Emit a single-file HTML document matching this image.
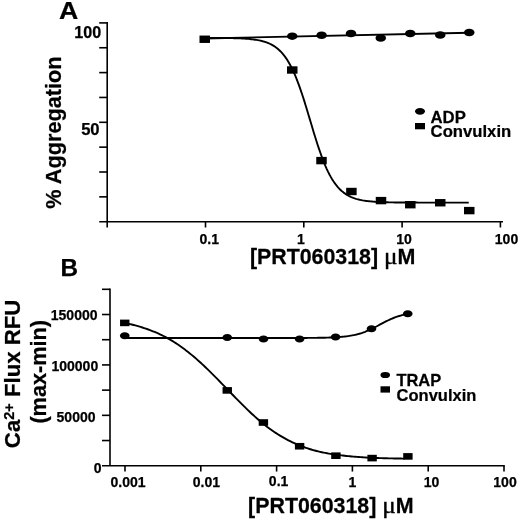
<!DOCTYPE html>
<html><head><meta charset="utf-8"><title>PRT060318 figure</title>
<style>html,body{margin:0;padding:0;background:#fff}svg{display:block}</style>
</head><body>
<svg width="520" height="521" viewBox="0 0 520 521">
<rect width="520" height="521" fill="#fff"/>
<g font-family="'Liberation Sans', Arial, sans-serif" font-weight="bold" fill="#000" stroke="#000" stroke-width="0.25" stroke-linejoin="round">

<!-- Panel A -->
<text transform="translate(59.1,19.25) scale(1.1,1)" font-size="24.3">A</text>
<g stroke="#000" stroke-width="1.6" fill="none">
<line x1="107.2" y1="22.10" x2="107.2" y2="221.7"/>
<line x1="99.2" y1="221.7" x2="503" y2="221.7"/>
<line x1="99.2" y1="22.90" x2="107.2" y2="22.90"/><line x1="99.2" y1="47.75" x2="107.2" y2="47.75"/><line x1="99.2" y1="72.60" x2="107.2" y2="72.60"/><line x1="99.2" y1="97.45" x2="107.2" y2="97.45"/><line x1="99.2" y1="122.30" x2="107.2" y2="122.30"/><line x1="99.2" y1="147.15" x2="107.2" y2="147.15"/><line x1="99.2" y1="172.00" x2="107.2" y2="172.00"/><line x1="99.2" y1="196.85" x2="107.2" y2="196.85"/>
<line x1="107.2" y1="221.7" x2="107.2" y2="227.5"/><line x1="205.5" y1="221.7" x2="205.5" y2="227.5"/><line x1="303.8" y1="221.7" x2="303.8" y2="227.5"/><line x1="402.1" y1="221.7" x2="402.1" y2="227.5"/><line x1="500.4" y1="221.7" x2="500.4" y2="227.5"/>
</g>
<text x="101.1" y="37.8" font-size="16.1" text-anchor="end">100</text>
<text x="99.6" y="135" font-size="16.6" text-anchor="end">50</text>
<g font-size="14" text-anchor="middle">
<text x="209.2" y="244.0">0.1</text>
<text x="300.8" y="243.6">1</text>
<text x="404" y="243.6">10</text>
<text x="506.5" y="244.2">100</text>
</g>
<text transform="translate(60.8,132.6) rotate(-90)" font-size="21.7" text-anchor="middle">% Aggregation</text>
<text transform="translate(249.9,264.2) scale(0.954,1)" font-size="22.4">[PRT060318]</text><text transform="translate(384.10,264.00) scale(1.08,0.98)" font-family="'Liberation Serif', serif" font-weight="normal" font-size="23.3" stroke-width="0.4">μ</text><text transform="translate(397.50,264.2) scale(0.958,1)" font-size="22.4">M</text>
<g stroke="#000" stroke-width="1.9" fill="none" stroke-linecap="butt">
<path d="M204.75,38.5 L469.25,32.7"/>
<path d="M204.75,37.88 L206.08,37.88 L207.40,37.89 L208.73,37.89 L210.06,37.90 L211.38,37.90 L212.71,37.91 L214.04,37.91 L215.36,37.92 L216.69,37.93 L218.02,37.94 L219.34,37.95 L220.67,37.96 L222.00,37.97 L223.32,37.99 L224.65,38.00 L225.98,38.02 L227.30,38.04 L228.63,38.06 L229.96,38.09 L231.28,38.11 L232.61,38.14 L233.94,38.18 L235.26,38.22 L236.59,38.26 L237.92,38.30 L239.24,38.36 L240.57,38.41 L241.90,38.48 L243.22,38.55 L244.55,38.63 L245.88,38.72 L247.20,38.82 L248.53,38.92 L249.86,39.05 L251.18,39.18 L252.51,39.33 L253.84,39.50 L255.16,39.69 L256.49,39.90 L257.82,40.13 L259.14,40.38 L260.47,40.67 L261.80,40.98 L263.12,41.33 L264.45,41.72 L265.78,42.16 L267.10,42.63 L268.43,43.16 L269.76,43.75 L271.08,44.40 L272.41,45.11 L273.73,45.90 L275.06,46.77 L276.39,47.73 L277.71,48.79 L279.04,49.95 L280.37,51.22 L281.69,52.61 L283.02,54.13 L284.35,55.79 L285.67,57.60 L287.00,59.56 L288.33,61.68 L289.65,63.97 L290.98,66.44 L292.31,69.09 L293.63,71.93 L294.96,74.95 L296.29,78.15 L297.61,81.54 L298.94,85.10 L300.27,88.84 L301.59,92.72 L302.92,96.76 L304.25,100.91 L305.57,105.18 L306.90,109.53 L308.23,113.94 L309.55,118.39 L310.88,122.85 L312.21,127.29 L313.53,131.69 L314.86,136.03 L316.19,140.28 L317.51,144.42 L318.84,148.42 L320.17,152.29 L321.49,155.99 L322.82,159.52 L324.15,162.88 L325.47,166.05 L326.80,169.04 L328.13,171.84 L329.45,174.46 L330.78,176.89 L332.11,179.16 L333.43,181.25 L334.76,183.18 L336.09,184.96 L337.41,186.60 L338.74,188.10 L340.07,189.47 L341.39,190.72 L342.72,191.86 L344.05,192.89 L345.37,193.84 L346.70,194.69 L348.03,195.47 L349.35,196.17 L350.68,196.81 L352.01,197.38 L353.33,197.90 L354.66,198.37 L355.99,198.80 L357.31,199.18 L358.64,199.52 L359.97,199.83 L361.29,200.11 L362.62,200.37 L363.95,200.59 L365.27,200.80 L366.60,200.98 L367.93,201.14 L369.25,201.29 L370.58,201.43 L371.91,201.55 L373.23,201.65 L374.56,201.75 L375.89,201.84 L377.21,201.91 L378.54,201.98 L379.87,202.05 L381.19,202.10 L382.52,202.15 L383.85,202.20 L385.17,202.24 L386.50,202.28 L387.83,202.31 L389.15,202.34 L390.48,202.37 L391.81,202.39 L393.13,202.41 L394.46,202.43 L395.79,202.45 L397.11,202.46 L398.44,202.48 L399.77,202.49 L401.09,202.50 L402.42,202.51 L403.74,202.52 L405.07,202.53 L406.40,202.54 L407.72,202.54 L409.05,202.55 L410.38,202.55 L411.70,202.56 L413.03,202.56 L414.36,202.57 L415.68,202.57 L417.01,202.57 L418.34,202.58 L419.66,202.58 L420.99,202.58 L422.32,202.58 L423.64,202.58 L424.97,202.59 L426.30,202.59 L427.62,202.59 L428.95,202.59 L430.28,202.59 L431.60,202.59 L432.93,202.59 L434.26,202.59 L435.58,202.59 L436.91,202.59 L438.24,202.60 L439.56,202.60 L440.89,202.60 L442.22,202.60 L443.54,202.60 L444.87,202.60 L446.20,202.60 L447.52,202.60 L448.85,202.60 L450.18,202.60 L451.50,202.60 L452.83,202.60 L454.16,202.60 L455.48,202.60 L456.81,202.60 L458.14,202.60 L459.46,202.60 L460.79,202.60 L462.12,202.60 L463.44,202.60 L464.77,202.60 L466.10,202.60 L467.42,202.60 L468.75,202.60"/>
</g>
<g stroke="none"><ellipse cx="292.25" cy="36.2" rx="5.25" ry="3.75"/><ellipse cx="321.6" cy="35.25" rx="5.25" ry="3.75"/><ellipse cx="351" cy="33.5" rx="5.25" ry="3.75"/><ellipse cx="380.75" cy="38" rx="5.25" ry="3.75"/><ellipse cx="410.25" cy="33.5" rx="5.25" ry="3.75"/><ellipse cx="440.25" cy="35" rx="5.25" ry="3.75"/><ellipse cx="469.25" cy="32.5" rx="5.25" ry="3.75"/></g>
<g stroke="none"><rect x="199.50" y="35.55" width="10.5" height="7.4"/><rect x="287.00" y="66.30" width="10.5" height="7.4"/><rect x="316.25" y="156.90" width="10.5" height="7.4"/><rect x="346.15" y="187.80" width="10.5" height="7.4"/><rect x="375.75" y="196.90" width="10.5" height="7.4"/><rect x="405.05" y="201.00" width="10.5" height="7.4"/><rect x="435.00" y="199.05" width="10.5" height="7.4"/><rect x="464.00" y="206.90" width="10.5" height="7.4"/></g>
<ellipse cx="420" cy="111.3" rx="5" ry="3.4" stroke="none"/>
<rect x="415" y="123" width="10" height="6.3" stroke="none"/>
<text transform="translate(430.5,123.0) scale(0.975,1)" font-size="17.2">ADP</text>
<text transform="translate(430.6,137.4) scale(0.965,1)" font-size="17.3">Convulxin</text>

<!-- Panel B -->
<text x="60.5" y="276.3" font-size="24.3">B</text>
<g stroke="#000" stroke-width="1.6" fill="none">
<line x1="110" y1="288.50" x2="110" y2="465.75"/>
<line x1="102" y1="465.75" x2="504.8" y2="465.75"/>
<line x1="102" y1="289.30" x2="110" y2="289.30"/><line x1="102" y1="314.51" x2="110" y2="314.51"/><line x1="102" y1="339.71" x2="110" y2="339.71"/><line x1="102" y1="364.92" x2="110" y2="364.92"/><line x1="102" y1="390.13" x2="110" y2="390.13"/><line x1="102" y1="415.34" x2="110" y2="415.34"/><line x1="102" y1="440.54" x2="110" y2="440.54"/>
<line x1="125" y1="465.75" x2="125" y2="471.55"/><line x1="200.8" y1="465.75" x2="200.8" y2="471.55"/><line x1="276.6" y1="465.75" x2="276.6" y2="471.55"/><line x1="352.4" y1="465.75" x2="352.4" y2="471.55"/><line x1="428.2" y1="465.75" x2="428.2" y2="471.55"/><line x1="504" y1="465.75" x2="504" y2="471.55"/>
</g>
<g font-size="14" text-anchor="end">
<text x="97.5" y="320.0">150000</text>
<text x="98.2" y="371.1">100000</text>
<text x="95.5" y="422">50000</text>
<text x="101.5" y="473">0</text>
</g>
<g font-size="14" text-anchor="middle">
<text x="128.1" y="486.5">0.001</text>
<text x="206.4" y="486.5">0.01</text>
<text x="278.6" y="486.4">0.1</text>
<text x="352.5" y="486.5">1</text>
<text x="431.5" y="486.5">10</text>
<text x="505" y="486.5">100</text>
</g>
<text transform="translate(19.8,373.9) rotate(-90)" font-size="22.2" text-anchor="middle">Ca<tspan font-size="14.5" dy="-6.3">2+</tspan><tspan dy="6.3"> Flux RFU</tspan></text>
<text transform="translate(45.8,371.8) rotate(-90)" font-size="21.7" text-anchor="middle">(max-min)</text>
<text transform="translate(248.1,512.7) scale(0.954,1)" font-size="22.4">[PRT060318]</text><text transform="translate(382.30,512.50) scale(1.08,0.98)" font-family="'Liberation Serif', serif" font-weight="normal" font-size="23.3" stroke-width="0.4">μ</text><text transform="translate(395.70,512.7) scale(0.958,1)" font-size="22.4">M</text>
<g stroke="#000" stroke-width="1.9" fill="none">
<path d="M124.75,338.00 L126.17,338.00 L127.59,338.00 L129.02,338.00 L130.44,338.00 L131.86,338.00 L133.28,338.00 L134.70,338.00 L136.13,338.00 L137.55,338.00 L138.97,338.00 L140.39,338.00 L141.82,338.00 L143.24,338.00 L144.66,338.00 L146.08,338.00 L147.50,338.00 L148.93,338.00 L150.35,338.00 L151.77,338.00 L153.19,338.00 L154.61,338.00 L156.04,338.00 L157.46,338.00 L158.88,338.00 L160.30,338.00 L161.72,338.00 L163.15,338.00 L164.57,338.00 L165.99,338.00 L167.41,338.00 L168.84,338.00 L170.26,338.00 L171.68,338.00 L173.10,338.00 L174.52,338.00 L175.95,338.00 L177.37,338.00 L178.79,338.00 L180.21,338.00 L181.63,338.00 L183.06,338.00 L184.48,338.00 L185.90,338.00 L187.32,338.00 L188.74,338.00 L190.17,338.00 L191.59,338.00 L193.01,338.00 L194.43,338.00 L195.86,338.00 L197.28,338.00 L198.70,338.00 L200.12,338.00 L201.54,338.00 L202.97,338.00 L204.39,338.00 L205.81,338.00 L207.23,338.00 L208.65,338.00 L210.08,338.00 L211.50,338.00 L212.92,338.00 L214.34,338.00 L215.77,338.00 L217.19,338.00 L218.61,338.00 L220.03,338.00 L221.45,338.00 L222.88,338.00 L224.30,338.00 L225.72,338.00 L227.14,338.00 L228.56,338.00 L229.99,338.00 L231.41,338.00 L232.83,338.00 L234.25,338.00 L235.67,338.00 L237.10,338.00 L238.52,338.00 L239.94,338.00 L241.36,338.00 L242.79,338.00 L244.21,338.00 L245.63,338.00 L247.05,338.00 L248.47,338.00 L249.90,338.00 L251.32,338.00 L252.74,338.00 L254.16,338.00 L255.58,338.00 L257.01,338.00 L258.43,338.00 L259.85,338.00 L261.27,338.00 L262.69,338.00 L264.12,338.00 L265.54,338.00 L266.96,338.00 L268.38,338.00 L269.81,338.00 L271.23,338.00 L272.65,338.00 L274.07,338.00 L275.49,337.99 L276.92,337.99 L278.34,337.99 L279.76,337.99 L281.18,337.99 L282.60,337.99 L284.03,337.99 L285.45,337.99 L286.87,337.99 L288.29,337.98 L289.71,337.98 L291.14,337.98 L292.56,337.98 L293.98,337.98 L295.40,337.97 L296.83,337.97 L298.25,337.96 L299.67,337.96 L301.09,337.96 L302.51,337.95 L303.94,337.94 L305.36,337.94 L306.78,337.93 L308.20,337.92 L309.62,337.91 L311.05,337.90 L312.47,337.89 L313.89,337.87 L315.31,337.86 L316.73,337.84 L318.16,337.82 L319.58,337.80 L321.00,337.78 L322.42,337.75 L323.85,337.72 L325.27,337.69 L326.69,337.65 L328.11,337.61 L329.53,337.56 L330.96,337.51 L332.38,337.45 L333.80,337.38 L335.22,337.31 L336.64,337.22 L338.07,337.13 L339.49,337.03 L340.91,336.91 L342.33,336.79 L343.76,336.65 L345.18,336.49 L346.60,336.32 L348.02,336.12 L349.44,335.91 L350.87,335.68 L352.29,335.42 L353.71,335.14 L355.13,334.83 L356.55,334.50 L357.98,334.13 L359.40,333.73 L360.82,333.30 L362.24,332.84 L363.66,332.34 L365.09,331.81 L366.51,331.24 L367.93,330.64 L369.35,330.01 L370.78,329.36 L372.20,328.67 L373.62,327.96 L375.04,327.23 L376.46,326.48 L377.89,325.73 L379.31,324.96 L380.73,324.20 L382.15,323.43 L383.57,322.68 L385.00,321.94 L386.42,321.22 L387.84,320.52 L389.26,319.85 L390.68,319.20 L392.11,318.58 L393.53,318.00 L394.95,317.45 L396.37,316.93 L397.80,316.45 L399.22,316.00 L400.64,315.59 L402.06,315.20 L403.48,314.85 L404.91,314.53 L406.33,314.23 L407.75,313.96"/>
<path d="M124.75,322.82 L126.51,323.22 L128.27,323.64 L130.03,324.07 L131.79,324.51 L133.55,324.97 L135.31,325.44 L137.07,325.93 L138.83,326.43 L140.58,326.96 L142.34,327.50 L144.10,328.07 L145.86,328.66 L147.62,329.27 L149.38,329.91 L151.14,330.57 L152.90,331.26 L154.66,331.97 L156.42,332.72 L158.18,333.49 L159.94,334.30 L161.70,335.14 L163.46,336.01 L165.22,336.92 L166.98,337.87 L168.74,338.85 L170.50,339.87 L172.25,340.92 L174.01,342.02 L175.77,343.15 L177.53,344.31 L179.29,345.51 L181.05,346.75 L182.81,348.02 L184.57,349.32 L186.33,350.66 L188.09,352.03 L189.85,353.44 L191.61,354.88 L193.37,356.34 L195.13,357.84 L196.89,359.37 L198.65,360.93 L200.41,362.52 L202.17,364.14 L203.92,365.78 L205.68,367.46 L207.44,369.15 L209.20,370.86 L210.96,372.60 L212.72,374.35 L214.48,376.12 L216.24,377.90 L218.00,379.69 L219.76,381.49 L221.52,383.30 L223.28,385.12 L225.04,386.94 L226.80,388.76 L228.56,390.58 L230.32,392.40 L232.08,394.22 L233.83,396.03 L235.59,397.84 L237.35,399.63 L239.11,401.42 L240.87,403.19 L242.63,404.95 L244.39,406.69 L246.15,408.41 L247.91,410.11 L249.67,411.79 L251.43,413.44 L253.19,415.07 L254.95,416.67 L256.71,418.24 L258.47,419.77 L260.23,421.28 L261.99,422.74 L263.75,424.17 L265.50,425.56 L267.26,426.92 L269.02,428.23 L270.78,429.51 L272.54,430.75 L274.30,431.95 L276.06,433.11 L277.82,434.24 L279.58,435.34 L281.34,436.40 L283.10,437.42 L284.86,438.41 L286.62,439.37 L288.38,440.30 L290.14,441.19 L291.90,442.05 L293.66,442.88 L295.42,443.67 L297.17,444.44 L298.93,445.18 L300.69,445.89 L302.45,446.56 L304.21,447.21 L305.97,447.83 L307.73,448.43 L309.49,448.99 L311.25,449.53 L313.01,450.04 L314.77,450.53 L316.53,450.99 L318.29,451.43 L320.05,451.84 L321.81,452.23 L323.57,452.59 L325.33,452.94 L327.08,453.27 L328.84,453.57 L330.60,453.86 L332.36,454.14 L334.12,454.40 L335.88,454.65 L337.64,454.89 L339.40,455.12 L341.16,455.34 L342.92,455.55 L344.68,455.75 L346.44,455.94 L348.20,456.12 L349.96,456.30 L351.72,456.46 L353.48,456.61 L355.24,456.76 L357.00,456.90 L358.75,457.03 L360.51,457.16 L362.27,457.27 L364.03,457.38 L365.79,457.49 L367.55,457.59 L369.31,457.68 L371.07,457.76 L372.83,457.84 L374.59,457.92 L376.35,457.98 L378.11,458.05 L379.87,458.11 L381.63,458.16 L383.39,458.22 L385.15,458.26 L386.91,458.31 L388.67,458.35 L390.42,458.38 L392.18,458.42 L393.94,458.45 L395.70,458.48 L397.46,458.51 L399.22,458.53 L400.98,458.55 L402.74,458.58 L404.50,458.60"/>
</g>
<g stroke="none"><ellipse cx="124.75" cy="335.75" rx="4.85" ry="3.55"/><ellipse cx="227.25" cy="337.5" rx="4.85" ry="3.55"/><ellipse cx="263.5" cy="339" rx="4.85" ry="3.55"/><ellipse cx="299.6" cy="339" rx="4.85" ry="3.55"/><ellipse cx="335.6" cy="337" rx="4.85" ry="3.55"/><ellipse cx="371.5" cy="328.75" rx="4.85" ry="3.55"/><ellipse cx="407.75" cy="313.75" rx="4.85" ry="3.55"/></g>
<g stroke="none"><rect x="120.05" y="319.60" width="9.4" height="6.6"/><rect x="222.55" y="387.10" width="9.4" height="6.6"/><rect x="258.70" y="419.20" width="9.4" height="6.6"/><rect x="294.90" y="442.95" width="9.4" height="6.6"/><rect x="331.20" y="452.40" width="9.4" height="6.6"/><rect x="367.40" y="454.80" width="9.4" height="6.6"/><rect x="403.20" y="453.10" width="9.4" height="6.6"/></g>
<ellipse cx="385.25" cy="375" rx="4.8" ry="3.1" stroke="none"/>
<rect x="380.5" y="386.3" width="9.5" height="6.3" stroke="none"/>
<text transform="translate(396.4,386.2) scale(0.975,1)" font-size="16.9">TRAP</text>
<text transform="translate(396.6,400.7) scale(0.965,1)" font-size="17.1">Convulxin</text>
</g>
</svg>
</body></html>
